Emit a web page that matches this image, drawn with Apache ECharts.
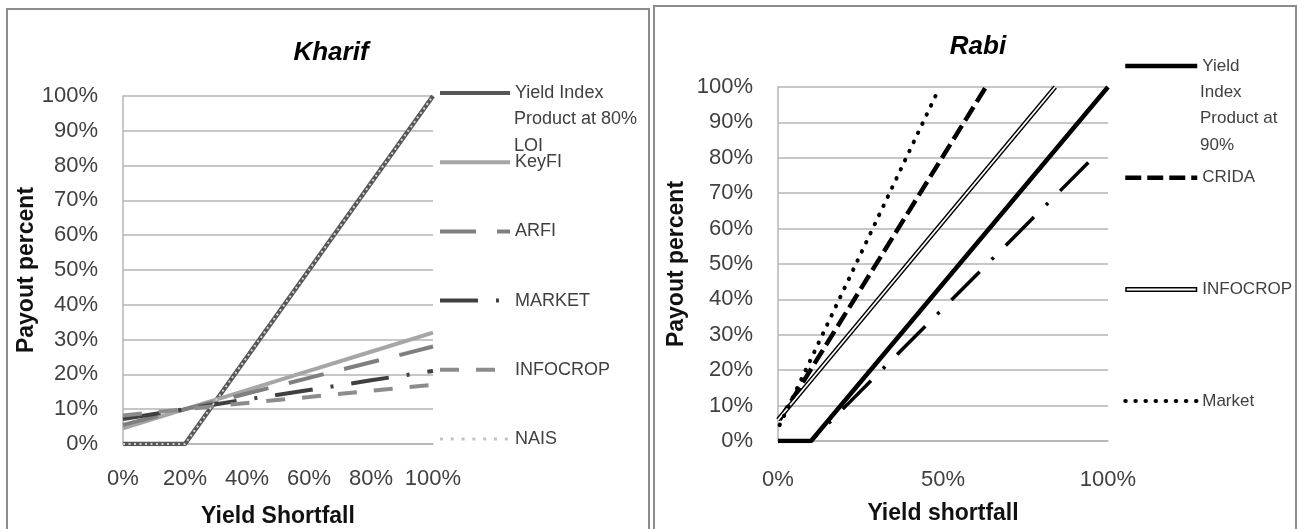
<!DOCTYPE html>
<html>
<head>
<meta charset="utf-8">
<title>Kharif / Rabi payout</title>
<script src="https://cdn.jsdelivr.net/npm/echarts@6.0.0/dist/echarts.min.js"></script>
<style>
  html, body { margin: 0; padding: 0; background: #fff; }
  #chart { width: 1302px; height: 529px; }
</style>
</head>
<body>
<div id="chart"></div>
<script>
// Kharif (left panel)
const kharifShortfall = [0, 0.2, 0.4, 0.6, 0.8, 1.0]
const kharifYieldIndex = [0, 0, 0.25, 0.5, 0.75, 1.0]
const kharifKeyFI = [0.045, 0.10, 0.155, 0.21, 0.265, 0.32]
const kharifARFI = [0.055, 0.10, 0.145, 0.19, 0.235, 0.28]
const kharifMarket = [0.072, 0.10, 0.128, 0.155, 0.183, 0.21]
const kharifInfocrop = [0.082, 0.10, 0.118, 0.135, 0.153, 0.17]
const kharifNAIS = [0, 0, 0.25, 0.5, 0.75, 1.0]

// Rabi (right panel)
const rabiYieldX = [0, 0.1, 1.0]
const rabiYieldY = [0, 0, 1.0]
const rabiCridaX = [0.005, 0.63]
const rabiCridaY = [0.06, 1.0]
const rabiInfocropX = [0, 0.84]
const rabiInfocropY = [0.06, 1.0]
const rabiMarketX = [0.005, 0.48]
const rabiMarketY = [0.045, 0.98]
const rabiOtherX = [0.1, 0.976]
const rabiOtherY = [0, 0.82]

const FONT = 'Liberation Sans'
const pct = v => Math.round(v * 100) + '%'
const pairs = (xs, ys) => xs.map((x, i) => [x, ys[i]])

const chart = echarts.init(document.getElementById('chart'))

function axisX(gridIndex, interval, name, margin) {
  return {
    type: 'value', gridIndex, min: 0, max: 1, interval,
    name, nameLocation: 'middle', nameGap: 61,
    nameTextStyle: { fontFamily: FONT, fontSize: 23, fontWeight: 'bold', color: '#111' },
    axisLine: { show: true, lineStyle: { color: '#b4b4b4', width: 1.5 } },
    axisTick: { show: false },
    splitLine: { show: false },
    axisLabel: { formatter: pct, margin, fontFamily: FONT, fontSize: 22, color: '#404040' }
  }
}

function axisY(gridIndex, nameGap) {
  return {
    type: 'value', gridIndex, min: 0, max: 1, interval: 0.1,
    name: 'Payout percent', nameLocation: 'middle', nameGap,
    nameTextStyle: { fontFamily: FONT, fontSize: 23, fontWeight: 'bold', color: '#111' },
    axisLine: { show: true, lineStyle: { color: '#b4b4b4', width: 1.5 } },
    axisTick: { show: false },
    splitLine: { show: true, lineStyle: { color: '#b4b4b4', width: 1.5 } },
    axisLabel: { formatter: pct, margin: 25, fontFamily: FONT, fontSize: 22, color: '#404040' }
  }
}

function line(name, idx, data, color, width, type, extra) {
  return Object.assign({
    name, type: 'line', xAxisIndex: idx, yAxisIndex: idx, data,
    symbol: 'none', smooth: false, animation: false,
    itemStyle: { color },
    lineStyle: { color, width, type: type || 'solid' }
  }, extra || {})
}

const legendText = { fontFamily: FONT, fontSize: 18, color: '#404040', lineHeight: 20 }
const wrapFont = '18px "Liberation Sans"'

const option = {
  backgroundColor: '#fff',
  animation: false,
  grid: [
    { left: 123, top: 96, width: 310, height: 348, outerBoundsMode: 'none' },
    { left: 778, top: 87, width: 330, height: 354, outerBoundsMode: 'none' }
  ],
  xAxis: [axisX(0, 0.2, 'Yield Shortfall', 24), axisX(1, 0.5, 'Yield shortfall', 28)],
  yAxis: [axisY(0, 70), axisY(1, 90)],
  legend: [
    {
      orient: 'vertical', left: 438, top: 83, padding: 0,
      itemWidth: 70, itemHeight: 20, itemGap: 49.2, selectedMode: false,
      itemStyle: { opacity: 0 },
      lineStyle: { width: 4 },
      textStyle: legendText,
      formatter: n => n.indexOf('Yield Index') === 0 ? 'Yield Index' : n,
      data: [
        { name: 'Yield Index Product at 80% LOI' },
        { name: 'KeyFI' },
        { name: 'ARFI' },
        { name: 'MARKET' },
        { name: 'INFOCROP' },
        { name: 'NAIS', lineStyle: { width: 3, color: '#c4c4c4', type: [3, 7.8] } }
      ]
    },
    {
      orient: 'vertical', left: 1123, top: 56, padding: 0,
      itemWidth: 72, itemHeight: 20, itemGap: 91.7, selectedMode: false,
      itemStyle: { opacity: 0 },
      lineStyle: { width: 4.5 },
      textStyle: Object.assign({}, legendText, { fontSize: 17 }),
      formatter: n => n.indexOf('Yield Index') === 0 ? 'Yield' : n,
      data: [
        { name: 'Yield Index Product at 90%' },
        { name: 'CRIDA' },
        {
          name: 'INFOCROP',
          icon: 'path://M0,0H72V5H0Z M1.5,1.5V3.5H70.5V1.5Z',
          itemStyle: { color: '#000', borderWidth: 0, opacity: 1 }
        },
        { name: 'Market', lineStyle: { width: 4 } }
      ]
    }
  ],
  graphic: [
    { type: 'rect', silent: true, shape: { x: 7, y: 9, width: 642, height: 560 },
      style: { fill: 'transparent', stroke: '#8c8c8c', lineWidth: 2 } },
    { type: 'rect', silent: true, shape: { x: 654, y: 6, width: 642, height: 560 },
      style: { fill: 'transparent', stroke: '#8c8c8c', lineWidth: 2 } },
    { type: 'text', x: 331, y: 53, silent: true,
      style: { text: 'Kharif', fill: '#000', font: 'italic bold 26px "Liberation Sans"', align: 'center', verticalAlign: 'middle' } },
    { type: 'text', x: 978, y: 47, silent: true,
      style: { text: 'Rabi', fill: '#000', font: 'italic bold 26px "Liberation Sans"', align: 'center', verticalAlign: 'middle' } },
    // wrapped legend lines
    { type: 'text', x: 514, y: 119, silent: true,
      style: { text: 'Product at 80%', fill: '#404040', font: wrapFont, verticalAlign: 'middle' } },
    { type: 'text', x: 514, y: 146, silent: true,
      style: { text: 'LOI', fill: '#404040', font: wrapFont, verticalAlign: 'middle' } },
    { type: 'text', x: 1200, y: 92, silent: true,
      style: { text: 'Index', fill: '#404040', font: '17px "Liberation Sans"', verticalAlign: 'middle' } },
    { type: 'text', x: 1200, y: 118, silent: true,
      style: { text: 'Product at', fill: '#404040', font: '17px "Liberation Sans"', verticalAlign: 'middle' } },
    { type: 'text', x: 1200, y: 145, silent: true,
      style: { text: '90%', fill: '#404040', font: '17px "Liberation Sans"', verticalAlign: 'middle' } }
  ],
  series: [
    line('Yield Index Product at 80% LOI', 0, pairs(kharifShortfall, kharifYieldIndex), '#575757', 4.5),
    line('KeyFI', 0, pairs(kharifShortfall, kharifKeyFI), '#a6a6a6', 4),
    line('ARFI', 0, pairs(kharifShortfall, kharifARFI), '#7f7f7f', 4, [36, 21]),
    line('MARKET', 0, pairs(kharifShortfall, kharifMarket), '#404040', 4, [38, 18, 3, 18]),
    line('INFOCROP', 0, pairs(kharifShortfall, kharifInfocrop), '#8c8c8c', 4, [19, 17]),
    line('NAIS', 0, pairs(kharifShortfall, kharifNAIS), '#d4d4d4', 2, [2, 3.5]),

    line('Yield Index Product at 90%', 1, pairs(rabiYieldX, rabiYieldY), '#000', 4.5),
    line('CRIDA', 1, pairs(rabiCridaX, rabiCridaY), '#000', 4.5, [16, 6]),
    line('INFOCROP', 1, pairs(rabiInfocropX, rabiInfocropY), '#000', 4.5),
    line('INFOCROP inner', 1, pairs(rabiInfocropX, rabiInfocropY), '#fff', 1.8),
    line('Market', 1, pairs(rabiMarketX, rabiMarketY), '#000', 4, [0.5, 9.6], { lineStyle: { color: '#000', width: 4, type: [0.5, 9.6], cap: 'round' } }),
    line('Series 5', 1, pairs(rabiOtherX, rabiOtherY), '#000', 3.5, [40, 17, 3, 17], { lineStyle: { color: '#000', width: 3.5, type: [40, 17, 3, 17], dashOffset: 32 } })
  ]
}

chart.setOption(option)
</script>
</body>
</html>
